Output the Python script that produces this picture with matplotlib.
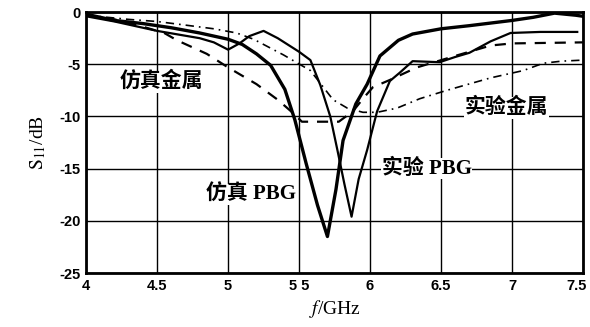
import matplotlib
matplotlib.use("Agg")
import matplotlib.pyplot as plt
import matplotlib.transforms as mtransforms

plt.rcParams["mathtext.fontset"] = "stix"

# ---- data ----
sim_pbg_f = [4.0, 4.2, 4.4, 4.6, 4.8, 5.0, 5.1, 5.2, 5.3, 5.4, 5.47, 5.55, 5.63, 5.70,
             5.76, 5.81, 5.9, 5.98, 6.07, 6.2, 6.3, 6.5, 6.7, 7.0, 7.15, 7.3, 7.45, 7.5]
sim_pbg_s = [-0.2, -0.8, -1.1, -1.5, -2.0, -2.6, -3.1, -4.0, -5.1, -7.4, -10.3, -14.5, -18.5, -21.5,
             -17.0, -12.3, -8.8, -6.9, -4.2, -2.7, -2.1, -1.6, -1.3, -0.8, -0.5, -0.1, -0.3, -0.4]

exp_pbg_f = [4.0, 4.2, 4.5, 4.8, 4.9, 5.0, 5.08, 5.15, 5.25, 5.35, 5.5, 5.58, 5.65, 5.72,
             5.77, 5.82, 5.87, 5.92, 5.98, 6.05, 6.14, 6.21, 6.3, 6.49, 6.6, 6.7, 6.85, 6.99,
             7.2, 7.46]
exp_pbg_s = [-0.4, -0.9, -1.8, -2.5, -2.9, -3.6, -3.0, -2.3, -1.8, -2.5, -3.8, -4.6, -7.0, -10.0,
             -13.2, -16.5, -19.6, -16.0, -13.2, -9.5, -6.6, -5.8, -4.7, -4.8, -4.3, -3.9, -2.8, -2.0,
             -1.9, -1.9]

sim_metal_f = [4.0, 4.2, 4.4, 4.55, 4.64, 4.85, 5.0, 5.2, 5.35, 5.46, 5.52, 5.78, 5.88, 5.95,
               6.02, 6.14, 6.33, 6.6, 6.85, 7.0, 7.5]
sim_metal_s = [-0.3, -0.7, -1.4, -2.0, -2.7, -4.0, -5.3, -6.9, -8.4, -9.7, -10.5, -10.5, -9.5, -8.3,
               -7.2, -6.5, -5.3, -4.2, -3.2, -3.0, -2.9]

exp_metal_f = [4.0, 4.3, 4.5, 4.73, 4.9, 5.06, 5.18, 5.39, 5.58, 5.74, 5.84, 5.95, 6.05, 6.19,
               6.35, 6.54, 6.85, 7.08, 7.22, 7.35, 7.5]
exp_metal_s = [-0.3, -0.7, -0.9, -1.3, -1.6, -2.0, -2.6, -4.1, -5.6, -8.4, -9.2, -9.6, -9.6, -9.2,
               -8.3, -7.5, -6.3, -5.6, -4.9, -4.7, -4.6]

x_ticks = [4, 4.5, 5, 5.5, 6, 6.5, 7, 7.5]
x_ticklabels = ["4", "4.5", "5", "5 5", "6", "6.5", "7", "7.5"]
y_ticks = [0, -5, -10, -15, -20, -25]
y_ticklabels = ["0", "-5", "-10", "-15", "-20", "-25"]

labels = ["仿真金属", "实验金属", "实验 PBG", "仿真 PBG"]
label_xy = [(4.53, -6.7), (6.96, -9.2), (6.40, -15.0), (5.16, -17.5)]

# ---- figure ----
fig = plt.figure(figsize=(5.90, 3.27), dpi=100)
ax = fig.add_axes([0.146, 0.165, 0.842, 0.798])

ax.set_xlim(4, 7.5)
ax.set_ylim(-25, 0)
ax.grid(True, color="black", linewidth=1.0)
ax.set_axisbelow(True)

ax.plot(sim_pbg_f, sim_pbg_s, color="black", linewidth=2.4, solid_joinstyle="round")
ax.plot(exp_pbg_f, exp_pbg_s, color="black", linewidth=1.6)
ax.plot(sim_metal_f, sim_metal_s, color="black", linewidth=1.6, dashes=(5, 4))
ax.plot(exp_metal_f, exp_metal_s, color="black", linewidth=1.2, dashes=(5, 3, 1, 3))

ax.set_xticks(x_ticks)
ax.set_xticklabels(x_ticklabels)
ax.set_yticks(y_ticks)
ax.set_yticklabels(y_ticklabels)
ax.tick_params(length=0, pad=4)
for lab in ax.get_xticklabels() + ax.get_yticklabels():
    lab.set_fontfamily("Liberation Sans")
    lab.set_fontweight("bold")
    lab.set_fontsize(10.5)

# keep the last x tick label inside the figure
last = ax.get_xticklabels()[-1]
last.set_transform(last.get_transform() + mtransforms.ScaledTranslation(-6 / 100, 0, fig.dpi_scale_trans))

for sp in ax.spines.values():
    sp.set_linewidth(2.0)

for txt, (x, y) in zip(labels, label_xy):
    ax.text(x, y, txt, ha="center", va="center", fontsize=15, fontweight="bold",
            family=["Liberation Serif", "Noto Sans CJK SC"],
            bbox=dict(facecolor="white", edgecolor="none", pad=0.5))

ax.set_ylabel("$\\mathrm{S}_{11}$/dB", fontsize=14, family="Liberation Serif", labelpad=8)
ax.set_xlabel("$f$/GHz", fontsize=14, family="Liberation Serif", labelpad=4)

fig.savefig("out.png", dpi=100)
